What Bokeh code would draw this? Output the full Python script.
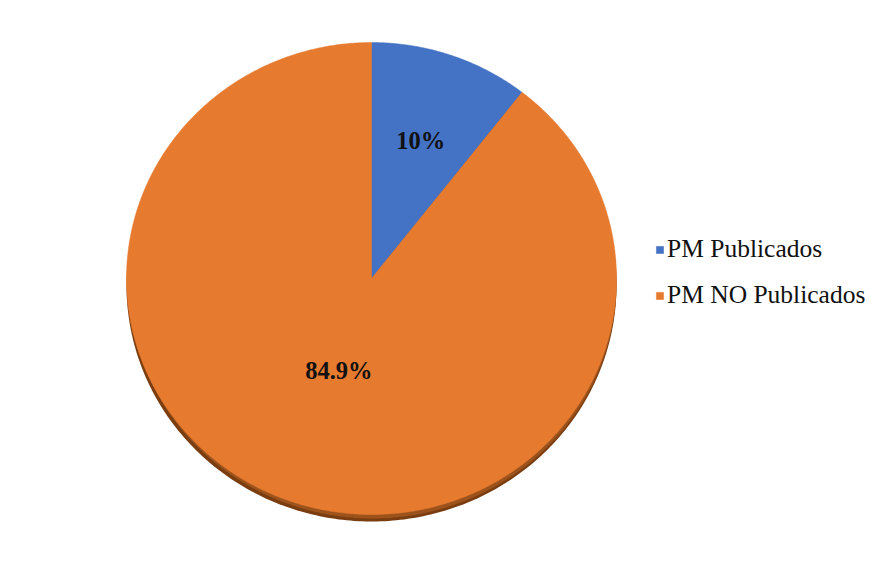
import numpy as np
from bokeh.plotting import figure
from bokeh.models import Range1d, ColumnDataSource, Legend, LegendItem
from bokeh.core.properties import value
from bokeh.embed import file_html
from bokeh.resources import INLINE

# ---- data ----
categories = ["PM Publicados", "PM NO Publicados"]
values = [10.0, 84.9]
labels = ["10%", "84.9%"]
colors = ["#4472C4", "#E67B30"]

# ---- layout / style ----
W, H = 878, 545
FONT = "Liberation Serif"
cx, cy = 371, 278          # pie centre (screen px, y down)
rx, ry = 245, 236          # ellipse radii
label_r = [0.62, 0.41]     # label distance as fraction of radius
shadow_dy = 7

p = figure(width=W, height=H, output_backend="svg", toolbar_location=None,
           x_range=Range1d(0, W), y_range=Range1d(H, 0), min_border=0,
           outline_line_color=None)
p.axis.visible = False
p.grid.visible = False
p.background_fill_color = "white"

total = sum(values)
fracs = np.array(values) / total
starts = np.concatenate([[0.0], np.cumsum(fracs)[:-1]]) * 2 * np.pi
ends = np.cumsum(fracs) * 2 * np.pi

# 3D rim / shadow under the pie
t = np.linspace(0, 2 * np.pi, 400)
p.patch(cx + rx * np.sin(t), cy + shadow_dy - ry * np.cos(t),
        fill_color="#7A3D10", line_color=None)
p.patch(cx + 1 + (rx - 1) * np.sin(t), cy + shadow_dy - 3 - ry * np.cos(t),
        fill_color="#9C521B", line_color=None)

renderers = []
for i, (a0, a1) in enumerate(zip(starts, ends)):
    tt = np.linspace(a0, a1, max(int((a1 - a0) * 120), 4))
    xs = np.concatenate([[cx], cx + rx * np.sin(tt), [cx]])
    ys = np.concatenate([[cy], cy - ry * np.cos(tt), [cy]])
    r = p.patch(xs, ys, fill_color=colors[i], line_color=colors[i], line_width=0.5)
    renderers.append(r)

mids = (starts + ends) / 2
lx = [cx + rx * f * np.sin(m) for f, m in zip(label_r, mids)]
ly = [cy - ry * f * np.cos(m) for f, m in zip(label_r, mids)]
src = ColumnDataSource(dict(x=lx, y=ly, t=labels))
p.text(x="x", y="y", text="t", source=src, text_align="center", text_baseline="middle",
       text_font=value(FONT), text_font_style="bold",
       text_font_size="24.5px", text_color="#111111")

legend = Legend(items=[LegendItem(label=c, renderers=[r]) for c, r in zip(categories, renderers)],
                location=(655, 235), orientation="vertical",
                label_text_font=FONT, label_text_font_size="25.5px",
                label_text_color="#111111", glyph_width=9, glyph_height=9,
                label_standoff=3, spacing=16, padding=0, margin=0,
                border_line_color=None, background_fill_alpha=0)
p.add_layout(legend)

open("out.html", "w").write(file_html(p, INLINE))
